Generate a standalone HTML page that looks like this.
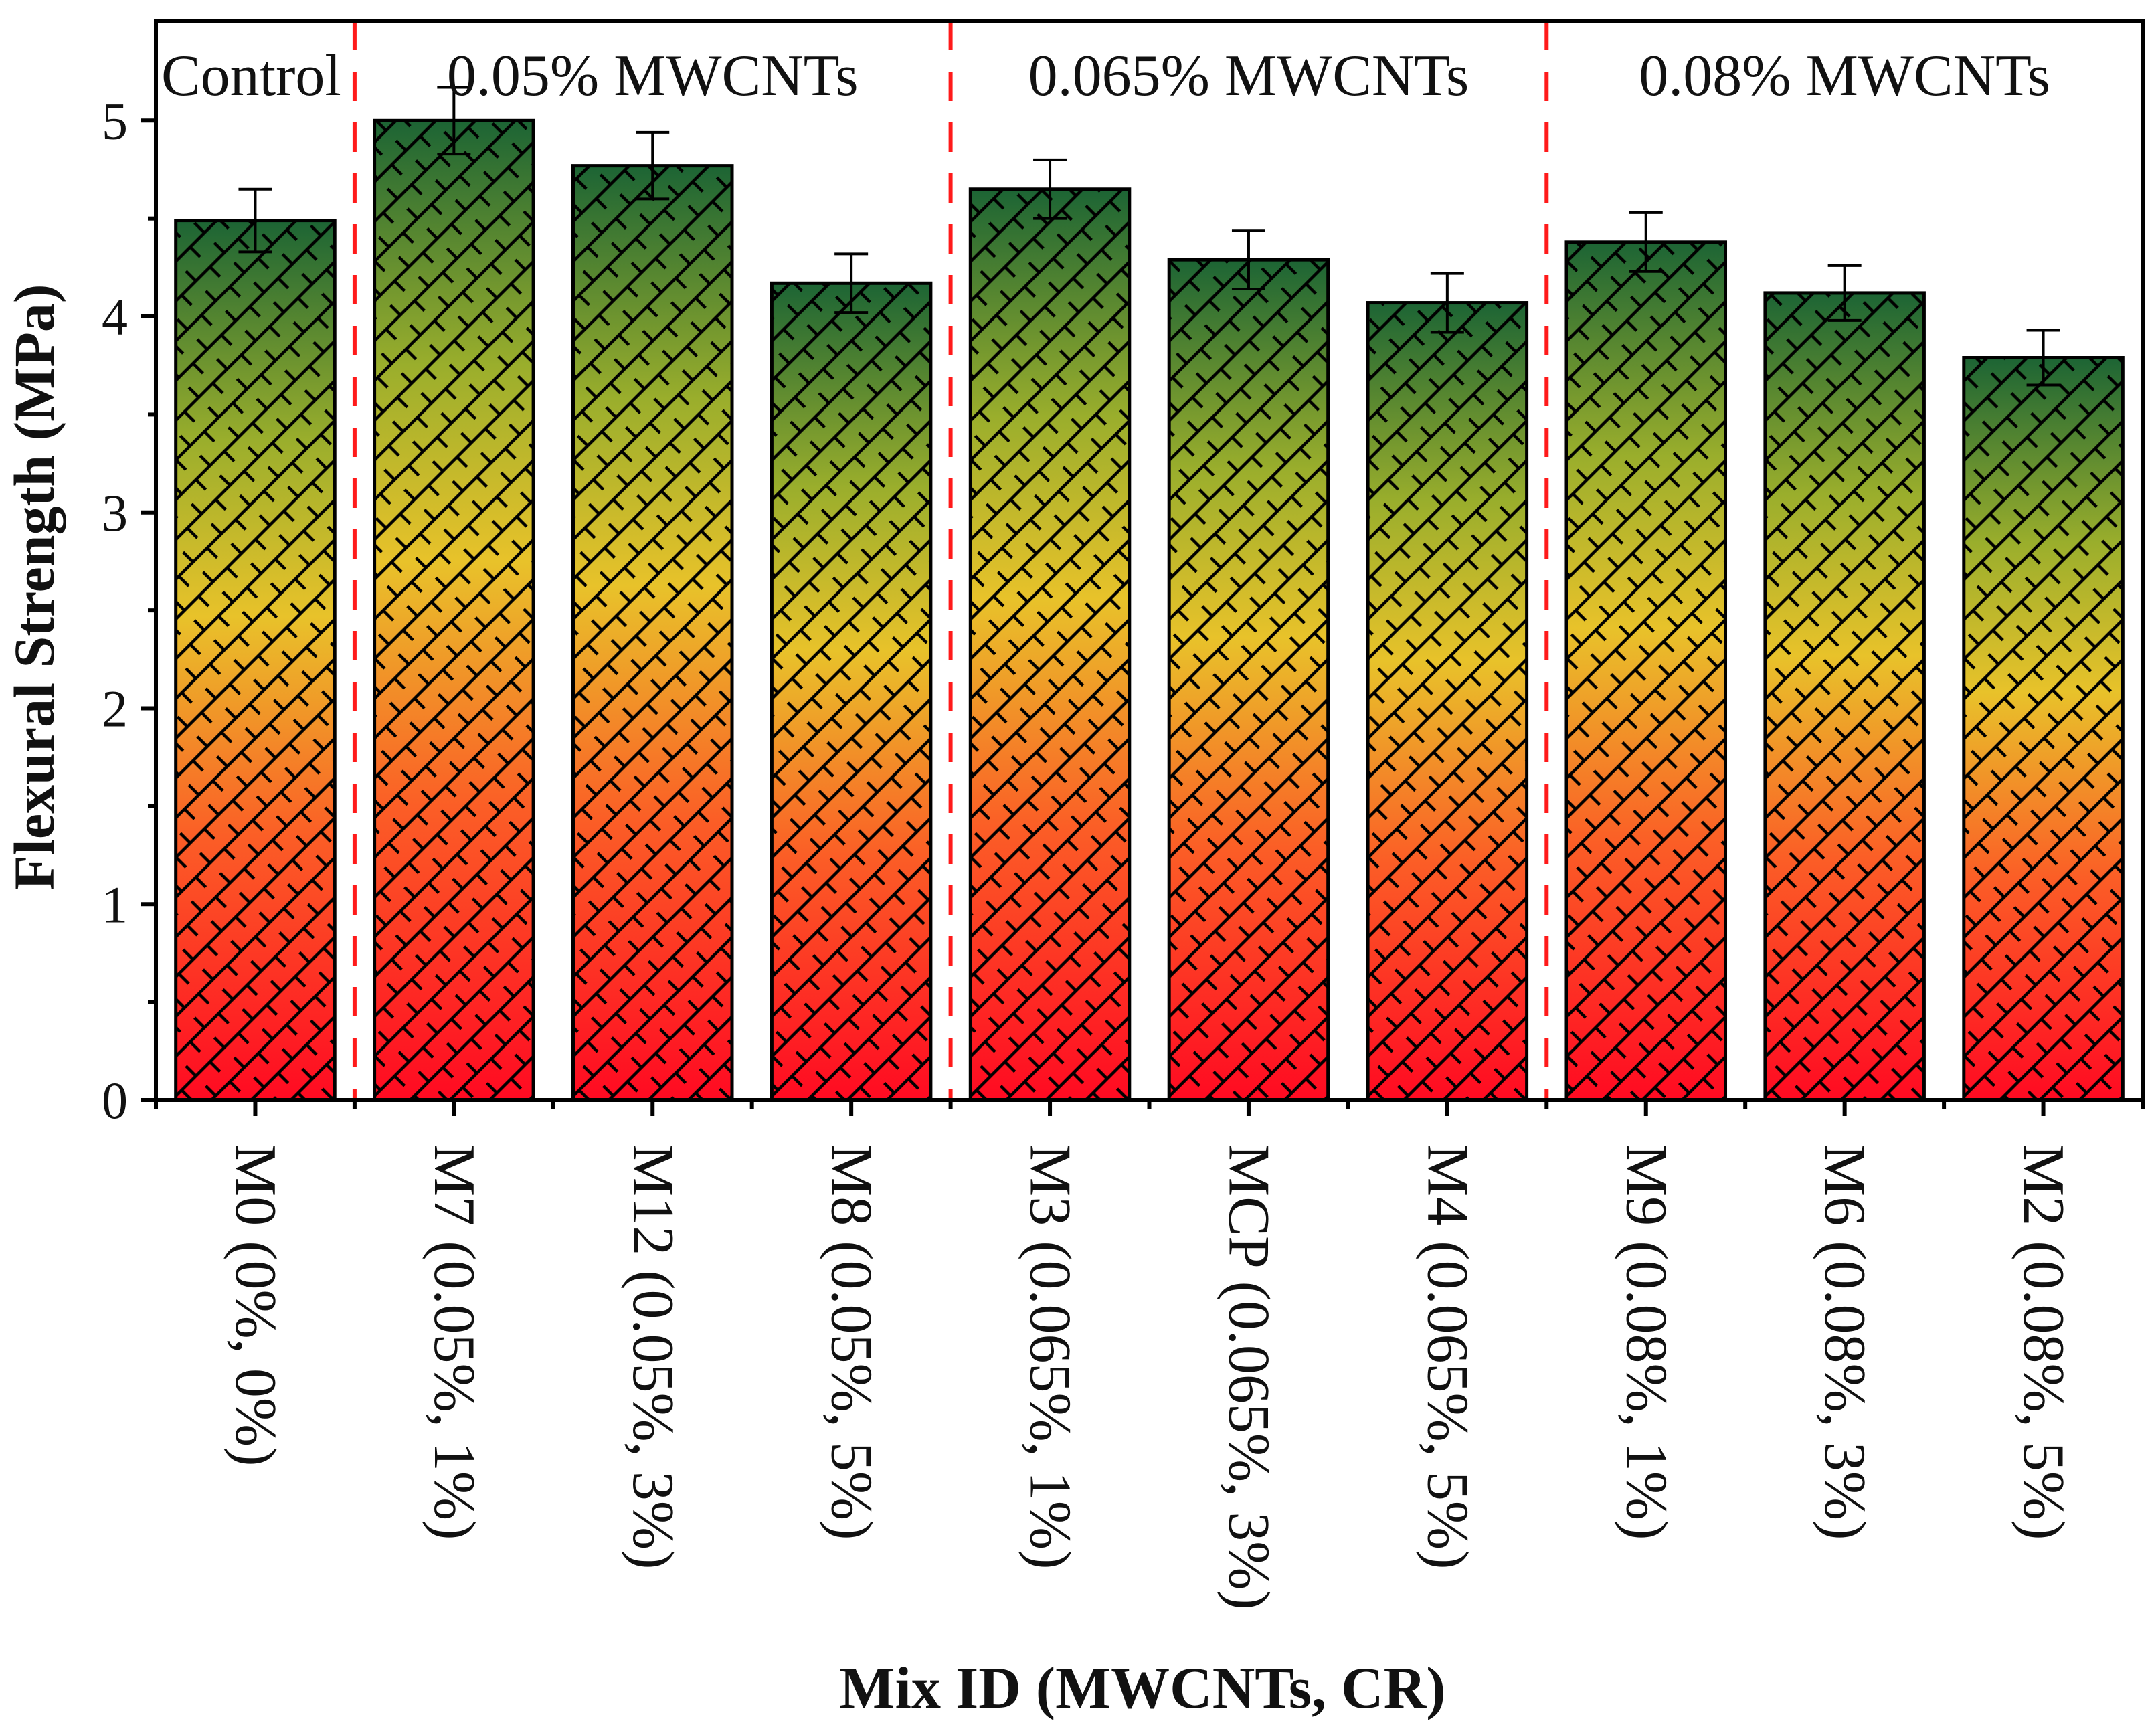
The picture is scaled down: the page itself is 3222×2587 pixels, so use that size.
<!DOCTYPE html>
<html><head><meta charset="utf-8"><style>
html,body{margin:0;padding:0;background:#fff;}
svg{display:block;font-family:"Liberation Serif","Times New Roman",serif;}
</style></head><body>
<svg id="chart" width="3222" height="2587" viewBox="0 0 3222 2587" xmlns="http://www.w3.org/2000/svg">
<defs>
<pattern id="brick" patternUnits="userSpaceOnUse" width="60" height="42" patternTransform="rotate(-45)">
<line x1="0" y1="0" x2="60" y2="0" stroke="#000" stroke-width="4.5"/>
<line x1="0" y1="42" x2="60" y2="42" stroke="#000" stroke-width="4.5"/>
<line x1="0" y1="0" x2="0" y2="21" stroke="#000" stroke-width="4.5"/>
<line x1="30" y1="21" x2="30" y2="42" stroke="#000" stroke-width="4.5"/>
<line x1="60" y1="0" x2="60" y2="21" stroke="#000" stroke-width="4.5"/>
</pattern>
<linearGradient id="grad" x1="0" y1="1" x2="0" y2="0">
<stop offset="0" stop-color="#ff0a22"/>
<stop offset="0.3" stop-color="#fb5e26"/>
<stop offset="0.55" stop-color="#e8c22a"/>
<stop offset="0.75" stop-color="#9aae2c"/>
<stop offset="1" stop-color="#1c6434"/>
</linearGradient>
</defs>
<g id="plot"></g>
</svg>
<script>
const categories = ["M0 (0%, 0%)","M7 (0.05%, 1%)","M12 (0.05%, 3%)","M8 (0.05%, 5%)","M3 (0.065%, 1%)","MCP (0.065%, 3%)","M4 (0.065%, 5%)","M9 (0.08%, 1%)","M6 (0.08%, 3%)","M2 (0.08%, 5%)"];
const values = [4.49, 5.0, 4.77, 4.17, 4.65, 4.29, 4.07, 4.38, 4.12, 3.79];
const errors = [0.16, 0.17, 0.17, 0.15, 0.15, 0.15, 0.15, 0.15, 0.14, 0.14];
const yTicks = [0, 1, 2, 3, 4, 5];
const groupLabels = ["Control", "0.05% MWCNTs", "0.065% MWCNTs", "0.08% MWCNTs"];
const groupStart = [0, 1, 4, 7];
const groupEnd = [1, 4, 7, 10];

const NS = "http://www.w3.org/2000/svg";
const L = 233, R = 3202, T = 31, B = 1644;
const yMax = 5.51;
const band = (R - L) / categories.length;
function xPos(i) { return L + i * band; }
function yPos(v) { return B - v / yMax * (B - T); }
const g = document.getElementById('plot');
function mk(tag, attrs, parent) {
  const e = document.createElementNS(NS, tag);
  for (const k in attrs) e.setAttribute(k, attrs[k]);
  (parent || g).appendChild(e);
  return e;
}

values.forEach((v, i) => {
  const bw = band * 0.8;
  const x = xPos(i + 0.5) - bw / 2, y = yPos(v), h = B - y;
  const bf = mk('rect', {x: x, y: y, width: bw, height: h, fill: 'url(#grad)'});
  
  
  const bp = mk('rect', {x: x, y: y, width: bw, height: h, fill: 'url(#brick)', stroke: '#000', 'stroke-width': 5});
  
  
});

values.forEach((v, i) => {
  const cx = xPos(i + 0.5), e = errors[i];
  const eg = mk('g', {stroke: '#000', 'stroke-width': 4});
  
  
  mk('line', {x1: cx, x2: cx, y1: yPos(v + e), y2: yPos(v - e)}, eg);
  mk('line', {x1: cx - 25, x2: cx + 25, y1: yPos(v + e), y2: yPos(v + e)}, eg);
  mk('line', {x1: cx - 25, x2: cx + 25, y1: yPos(v - e), y2: yPos(v - e)}, eg);
});

groupStart.slice(1).forEach(s => {
  const x = xPos(s);
  const d = mk('line', {x1: x, x2: x, y1: T, y2: B, stroke: '#ff1a1a', 'stroke-width': 6, 'stroke-dasharray': '44 32'});
  
  
});

groupLabels.forEach((t, k) => {
  let cx = (xPos(groupStart[k]) + xPos(groupEnd[k])) / 2;
  if (k === 0) cx = xPos(0.5) - 6;
  const tx = mk('text', {x: cx, y: 142, 'font-size': 88, 'text-anchor': 'middle', fill: '#111'});
  tx.textContent = t;
  
  
});

const fr = mk('path', {d: `M${L},${B} L${L},${T} L${R},${T} L${R},${B} L${L},${B}`, fill: 'none', stroke: '#000', 'stroke-width': 6});



yTicks.forEach(v => {
  const y = yPos(v);
  const tl = mk('line', {x1: L - 22, x2: L, y1: y, y2: y, stroke: '#000', 'stroke-width': 6});
  
  
  const tx = mk('text', {x: L - 42, y: y + 27, 'font-size': 78, 'text-anchor': 'end', fill: '#111'});
  tx.textContent = v;
  
  
  if (v < 5) {
    const ym = yPos(v + 0.5);
    const mt = mk('line', {x1: L - 12, x2: L, y1: ym, y2: ym, stroke: '#000', 'stroke-width': 6});
    
    
  }
});

categories.forEach((c, i) => {
  const cx = xPos(i + 0.5);
  const tl = mk('line', {x1: cx, x2: cx, y1: B, y2: B + 24, stroke: '#000', 'stroke-width': 6});
  
  
  const mt = mk('line', {x1: xPos(i + 1), x2: xPos(i + 1), y1: B, y2: B + 14, stroke: '#000', 'stroke-width': 6});
  
  
  const tx = mk('text', {x: 0, y: 0, 'font-size': 88, fill: '#111', 'dominant-baseline': 'central', transform: `translate(${cx},1710) rotate(90)`});
  tx.textContent = c;
  
  
});
const m0 = mk('line', {x1: L, x2: L, y1: B, y2: B + 14, stroke: '#000', 'stroke-width': 6});



const yt = mk('text', {x: 0, y: 0, 'font-size': 86, 'font-weight': 'bold', 'text-anchor': 'middle', fill: '#111', transform: `translate(80,${(T + B) / 2 + 40}) rotate(-90)`});
yt.textContent = 'Flexural Strength (MPa)';


const xt = mk('text', {x: (L + R) / 2 - 10, y: 2552, 'font-size': 88, 'font-weight': 'bold', 'text-anchor': 'middle', fill: '#111'});
xt.textContent = 'Mix ID (MWCNTs, CR)';


</script>
</body></html>
